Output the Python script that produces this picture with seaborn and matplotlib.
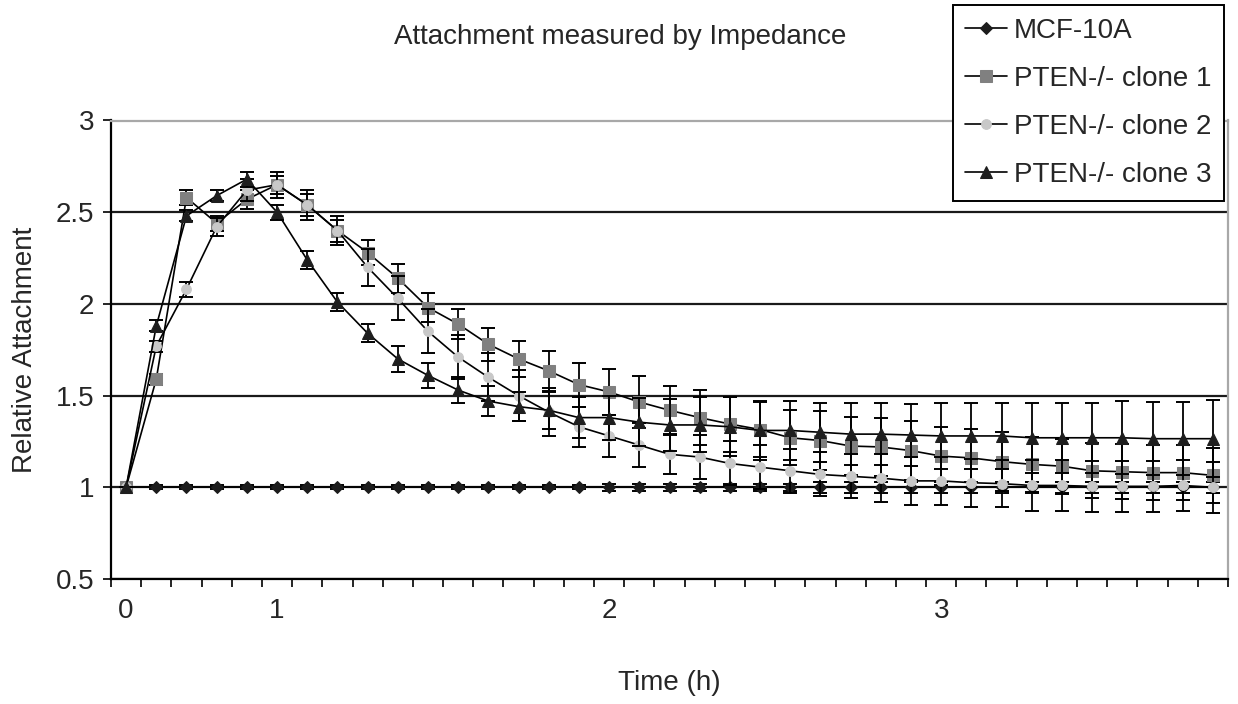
import numpy as np
import seaborn as sns
import matplotlib.pyplot as plt

# punti di misura (categorie equidistanti come nel grafico Excel)
punti = list(range(37))
tick_pos = [0, 5, 16, 27]
tick_lab = ["0", "1", "2", "3"]

mcf10a = [1.0] * 37
clone1 = [1.00, 1.59, 2.58, 2.44, 2.57, 2.65, 2.54, 2.40, 2.28, 2.14, 1.98, 1.89, 1.78,
          1.70, 1.635, 1.56, 1.52, 1.465, 1.42, 1.38, 1.345, 1.315, 1.27, 1.255, 1.225,
          1.22, 1.20, 1.17, 1.16, 1.14, 1.125, 1.115, 1.09, 1.085, 1.08, 1.08, 1.065]
clone2 = [1.00, 1.77, 2.08, 2.42, 2.62, 2.65, 2.54, 2.40, 2.20, 2.03, 1.85, 1.71, 1.60,
          1.50, 1.41, 1.33, 1.28, 1.23, 1.18, 1.165, 1.13, 1.11, 1.09, 1.07, 1.06,
          1.05, 1.035, 1.035, 1.025, 1.02, 1.01, 1.01, 1.005, 1.005, 1.005, 1.01, 1.00]
clone3 = [1.00, 1.88, 2.48, 2.59, 2.68, 2.50, 2.24, 2.01, 1.84, 1.70, 1.61, 1.53, 1.47,
          1.44, 1.42, 1.38, 1.38, 1.355, 1.34, 1.34, 1.33, 1.31, 1.31, 1.30, 1.29,
          1.29, 1.285, 1.28, 1.28, 1.28, 1.27, 1.27, 1.27, 1.27, 1.265, 1.265, 1.265]

err_mcf = [0, 0.01, 0.01, 0.01, 0.01, 0.01, 0.01, 0.01, 0.01, 0.01, 0.01, 0.01, 0.01,
           0.01, 0.01, 0.01, 0.02, 0.02, 0.02, 0.02, 0.02, 0.02, 0.02, 0.03, 0.03,
           0.03, 0.03, 0.03, 0.03, 0.03, 0.03, 0.03, 0.03, 0.03, 0.03, 0.03, 0.03]
err_c1 = [0, 0.03, 0.04, 0.04, 0.05, 0.05, 0.06, 0.06, 0.07, 0.08, 0.08, 0.08, 0.09,
          0.10, 0.11, 0.12, 0.125, 0.14, 0.135, 0.15, 0.15, 0.15, 0.15, 0.16, 0.16,
          0.16, 0.16, 0.16, 0.16, 0.16, 0.15, 0.15, 0.15, 0.15, 0.15, 0.15, 0.15]
err_c2 = [0, 0.03, 0.04, 0.05, 0.06, 0.07, 0.08, 0.08, 0.10, 0.12, 0.12, 0.12, 0.13,
          0.14, 0.13, 0.11, 0.115, 0.12, 0.11, 0.12, 0.12, 0.12, 0.12, 0.12, 0.12,
          0.13, 0.13, 0.13, 0.13, 0.13, 0.14, 0.14, 0.14, 0.14, 0.14, 0.14, 0.14]
err_c3 = [0, 0.03, 0.03, 0.03, 0.04, 0.04, 0.05, 0.05, 0.05, 0.07, 0.07, 0.07, 0.08,
          0.08, 0.10, 0.11, 0.12, 0.13, 0.14, 0.15, 0.16, 0.16, 0.16, 0.16, 0.17,
          0.17, 0.17, 0.18, 0.18, 0.18, 0.19, 0.19, 0.19, 0.20, 0.20, 0.20, 0.21]

sns.set_style("white")
plt.rcParams["font.family"] = ["Liberation Sans Narrow", "Liberation Sans", "DejaVu Sans"]

W, H = 1238, 704
fig = plt.figure(figsize=(W / 100, H / 100), dpi=100)
ax = fig.add_axes([111 / W, 1 - 579 / H, (1228 - 111) / W, (579 - 120.5) / H])

serie = [
    ("MCF-10A", mcf10a, err_mcf, "D", "#1c1c1c", 6.5),
    ("PTEN-/- clone 1", clone1, err_c1, "s", "#808080", 8.5),
    ("PTEN-/- clone 2", clone2, err_c2, "o", "#c8c8c8", 7),
    ("PTEN-/- clone 3", clone3, err_c3, "^", "#1e1e1e", 8),
]

z = 3
for nome, valori, err, mk, col, ms in serie:
    ax.errorbar(punti, valori, yerr=err, fmt="none", ecolor="black",
                elinewidth=1.3, capsize=5, capthick=1.4, zorder=z)
    sns.lineplot(x=punti, y=valori, ax=ax, color="black", lw=1.2, marker=mk,
                 markersize=ms, markerfacecolor=col, markeredgecolor=col,
                 label=nome, zorder=z + 0.5)
    z += 1

ax.set_xlim(-0.5, 36.5)
ax.set_ylim(0.5, 3)
ax.set_yticks([0.5, 1, 1.5, 2, 2.5, 3])
ax.set_yticklabels(["0.5", "1", "1.5", "2", "2.5", "3"])
ax.set_xticks(tick_pos)
ax.set_xticklabels(tick_lab)
ax.set_xticks(np.arange(-0.5, 37, 1), minor=True)

ax.yaxis.grid(True, color="#1a1a1a", lw=1.6)
ax.get_ygridlines()[-1].set_visible(False)
ax.set_axisbelow(True)

ax.tick_params(axis="x", which="major", length=0, pad=14, labelsize=20)
ax.tick_params(axis="x", which="minor", length=6, width=1.2, direction="out", color="black")
ax.tick_params(axis="y", length=6, width=1.2, direction="out", color="black", pad=6, labelsize=20)
ax.tick_params(axis="y", left=True)
ax.tick_params(axis="x", which="minor", bottom=True)

for s in ["left", "bottom"]:
    ax.spines[s].set_color("black")
    ax.spines[s].set_linewidth(1.6)
for s in ["top", "right"]:
    ax.spines[s].set_color("#a8a8a8")
    ax.spines[s].set_linewidth(1.6)

ax.set_xlabel("Time (h)", fontsize=20, va="center")
ax.xaxis.set_label_coords(0.5, (579 - 683) / 458.5)
ax.set_ylabel("Relative Attachment", fontsize=20, va="center")
ax.yaxis.set_label_coords((25 - 111) / 1117, 0.5)

fig.text(620 / W, 1 - 37 / H, "Attachment measured by Impedance", fontsize=20,
         ha="center", va="center")

leg = ax.legend(loc="upper right", bbox_to_anchor=(1224 / W, 1 - 5 / H),
                bbox_transform=fig.transFigure, frameon=True, fancybox=False,
                edgecolor="black", framealpha=1, fontsize=20, handlelength=1.5,
                handletextpad=0.25, labelspacing=0.8, borderpad=0.45, borderaxespad=0)
leg.get_frame().set_linewidth(1.4)
leg.set_zorder(20)

fig.savefig("out.png", dpi=100, facecolor="white")
